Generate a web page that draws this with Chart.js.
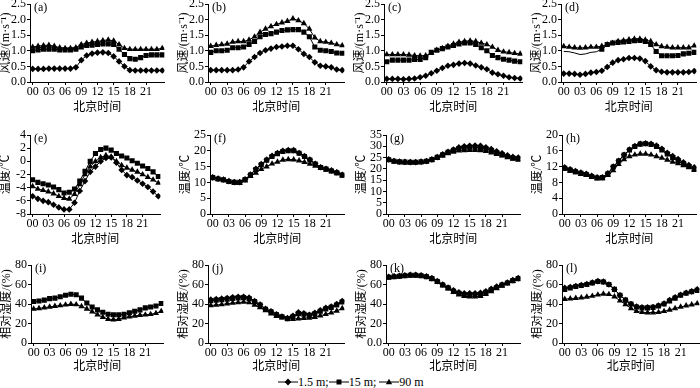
<!DOCTYPE html>
<html><head><meta charset="utf-8">
<script src="https://cdn.jsdelivr.net/npm/chart.js@4.4.0/dist/chart.umd.min.js"></script>
<style>
body{margin:0;width:700px;height:388px;background:#fff;position:relative;overflow:hidden}
canvas{position:absolute}
#legend{position:absolute;top:374px;left:278px;white-space:nowrap;font:12px 'Liberation Serif',serif;color:#000;line-height:16px}
#legend svg{vertical-align:-1px}
</style></head><body>
<div id="legend"><svg width="20" height="10"><line x1="0" y1="5" x2="20" y2="5" stroke="#000" stroke-width="1"/><polygon points="10,1.6 13.4,5 10,8.4 6.6,5" fill="#000"/></svg>1.5 m;<svg width="20" height="10"><line x1="0" y1="5" x2="20" y2="5" stroke="#000" stroke-width="1"/><rect x="7.5" y="2.5" width="5" height="5" fill="#000"/></svg>15 m; <svg width="20" height="10"><line x1="0" y1="5" x2="20" y2="5" stroke="#000" stroke-width="1"/><polygon points="10,1.8 13.2,7.3 6.8,7.3" fill="#000"/></svg>90 m</div>
<script>
// ---------- data ----------
const hours = [0,1,2,3,4,5,6,7,8,9,10,11,12,13,14,15,16,17,18,19,20,21,22,23,24];
const xTickValues = [0,3,6,9,12,15,18,21];
const xTickLabels = ['00','03','06','09','12','15','18','21'];

// wind speed (m/s)
const a_1_5 = [0.42,0.42,0.42,0.43,0.43,0.43,0.43,0.43,0.47,0.7,0.85,0.91,0.94,0.95,0.93,0.82,0.66,0.5,0.38,0.37,0.37,0.37,0.37,0.37,0.37];
const a_15  = [1.0,1.03,1.05,1.05,1.05,1.03,1.03,1.03,1.05,1.12,1.17,1.18,1.2,1.22,1.22,1.2,1.05,0.88,0.75,0.73,0.78,0.85,0.87,0.87,0.87];
const a_90  = [1.12,1.15,1.17,1.18,1.15,1.1,1.08,1.08,1.1,1.2,1.25,1.28,1.3,1.33,1.35,1.32,1.2,1.08,1.05,1.05,1.05,1.05,1.05,1.05,1.08];
const b_1_5 = [0.38,0.38,0.38,0.38,0.38,0.4,0.47,0.66,0.8,0.93,1.02,1.07,1.12,1.14,1.16,1.16,1.05,0.9,0.8,0.63,0.52,0.5,0.47,0.4,0.38];
const b_15  = [0.95,1.0,1.0,1.02,1.1,1.1,1.12,1.2,1.3,1.45,1.52,1.55,1.6,1.65,1.67,1.68,1.68,1.6,1.45,1.12,1.02,1.0,0.98,0.93,0.92];
const b_90  = [1.15,1.18,1.2,1.22,1.28,1.3,1.3,1.35,1.45,1.6,1.7,1.78,1.85,1.9,1.95,2.03,1.97,1.88,1.7,1.42,1.3,1.28,1.25,1.2,1.17];
const c_1_5 = [0.1,0.1,0.1,0.09,0.1,0.11,0.15,0.2,0.28,0.36,0.45,0.52,0.55,0.59,0.61,0.59,0.53,0.47,0.41,0.3,0.25,0.2,0.15,0.13,0.11];
const c_15  = [0.65,0.7,0.7,0.7,0.7,0.72,0.72,0.78,0.95,1.02,1.07,1.12,1.17,1.22,1.25,1.25,1.2,1.1,1.0,0.85,0.78,0.73,0.7,0.67,0.65];
const c_90  = [0.88,0.88,0.88,0.88,0.87,0.85,0.84,0.85,0.92,1.02,1.08,1.15,1.22,1.28,1.3,1.32,1.3,1.25,1.2,1.12,1.02,0.97,0.95,0.92,0.9];
const d_1_5 = [0.27,0.27,0.26,0.23,0.26,0.3,0.32,0.36,0.48,0.62,0.7,0.73,0.77,0.77,0.75,0.67,0.5,0.38,0.33,0.31,0.31,0.31,0.31,0.32,0.35];
const d_15  = [0.98,0.97,0.93,0.88,0.9,0.95,0.97,1.05,1.2,1.25,1.27,1.28,1.3,1.32,1.33,1.3,1.2,0.98,0.84,0.84,0.84,0.85,0.9,0.92,0.95];
const d_15_firstMarker = 7;
const d_90  = [1.14,1.12,1.1,1.09,1.1,1.12,1.12,1.15,1.2,1.25,1.3,1.33,1.36,1.38,1.38,1.35,1.3,1.2,1.14,1.12,1.1,1.1,1.1,1.1,1.16];

// temperature (°C)
const e_1_5 = [-5.3,-5.7,-6.0,-6.2,-6.6,-7.0,-7.3,-7.3,-6.3,-4.5,-3.0,-1.6,-0.8,0.0,0.5,0.6,-0.2,-1.3,-2.1,-2.4,-2.9,-3.4,-3.9,-4.6,-5.3];
const e_15  = [-2.8,-3.2,-3.4,-3.6,-3.9,-4.3,-4.8,-4.7,-4.2,-3.0,-1.5,0.0,1.2,1.8,2.0,1.7,1.2,0.8,0.5,0.1,-0.3,-0.7,-1.1,-1.6,-2.3];
const e_90  = [-3.8,-4.2,-4.4,-4.6,-4.9,-5.3,-5.6,-5.7,-5.0,-3.5,-2.0,-0.8,0.0,0.6,0.9,0.7,0.0,-0.6,-1.0,-1.3,-1.6,-2.0,-2.4,-2.8,-3.3];
const f_1_5 = [11.6,11.2,10.9,10.4,10.1,10.1,11.0,12.5,14.3,15.8,17.2,18.4,19.3,20.0,20.2,20.2,19.3,18.3,17.2,15.9,14.8,14.3,13.8,13.2,12.4];
const f_15  = [11.5,11.1,10.8,10.3,10.0,10.0,10.9,12.3,14.1,15.6,17.0,18.2,19.1,19.8,20.0,20.0,19.2,18.2,17.1,15.8,14.7,14.2,13.6,13.0,12.3];
const f_90  = [11.5,11.0,10.7,10.2,9.9,9.8,10.5,12.0,13.0,14.2,15.0,15.9,16.5,17.1,17.3,17.2,16.9,16.4,15.8,15.2,14.6,14.0,13.5,13.0,12.1];
const g_1_5 = [24.2,23.5,23.2,23.1,23.0,23.0,23.2,23.5,24.2,25.2,26.4,27.6,28.6,29.5,30.0,30.2,30.3,30.2,29.6,28.8,27.8,26.9,26.0,25.3,25.0];
const g_15  = [24.0,23.4,23.1,23.0,22.9,22.9,23.1,23.4,24.1,25.1,26.2,27.3,28.2,29.0,29.4,29.6,29.6,29.4,28.8,28.0,27.1,26.3,25.5,24.8,24.5];
const g_90  = [23.8,23.2,22.9,22.8,22.7,22.7,22.9,23.2,23.9,24.8,25.8,26.8,27.5,28.0,28.2,28.3,28.3,28.2,27.8,27.2,26.5,25.8,25.0,24.4,24.0];
const h_1_5 = [11.8,11.3,10.9,10.5,10.2,9.7,9.3,9.3,10.3,12.0,13.5,15.0,16.3,17.2,17.8,17.9,17.8,17.3,16.5,15.5,14.7,13.9,13.1,12.4,11.8];
const h_15  = [11.6,11.1,10.7,10.3,10.0,9.5,9.1,9.2,10.2,11.9,13.4,14.9,16.2,17.1,17.7,17.8,17.6,17.1,16.2,15.2,14.3,13.5,12.7,12.0,11.3];
const h_90  = [11.4,10.9,10.5,10.1,9.8,9.4,9.0,9.0,9.8,11.0,12.6,13.8,14.6,15.0,15.2,15.2,15.0,14.6,14.2,13.7,13.2,12.8,12.3,11.9,11.2];

// relative humidity (%)
const i_1_5 = [];
const i_15  = [42.5,43,44,45.5,46,47.5,49,50,49.5,46,41,37,34,31.5,29.5,29,29,29.5,31,32.5,34,36,37,38,40.5];
const i_90  = [35,35.5,36.3,37,37.8,38.4,39.2,39.8,39.5,37.5,35,32,29,26.5,24.5,24,24.5,26,27,27.8,28.5,29,29.5,30.5,32.5];
const j_1_5 = [44.5,45,45.5,46.2,47,47.5,47.5,46.5,43,39.5,35,32.5,29.5,27.2,25.5,28,31.5,30.5,29,31,33.5,36,37.5,40,43];
const j_15  = [43.5,44,44.5,45,45.8,46.3,46.5,45.5,42.5,39,34.5,32,29,27,25,27,30,29.5,28.5,30,32.5,35,36.5,39,42];
const j_90  = [38.5,39,39.5,40.3,41,41.5,42,41.5,39,36.5,33.5,30,27.5,26,25,24.5,25,25.5,25.8,26.5,28,29.5,31,33,35.5];
const k_1_5 = [68,68.5,69,69.5,70,70,69.5,68.5,66.5,63.5,60,57,54,52,51,51,51,51.5,53,55.5,58,60,62,64.5,66.5];
const k_15  = [67.5,68,68.5,69,69.5,69.5,69,68,66,63,59.5,56.5,53,51,49.5,49.5,49.5,50,52,54.5,57,59.5,61.5,64,66];
const k_90  = [67,67.5,68,68.5,69,69,68.5,67.5,65.5,62.5,59,56,52,49.5,48,47.5,47.5,48,50,53,56,58.5,61,63.5,65.5];
const l_1_5 = [56.5,57.5,58.5,59.5,60.5,62,63.5,63,60,55,49,44,40,37.5,36.5,36.5,37,38.5,40.5,44,47,49.5,51.5,53,55];
const l_15  = [55,56.5,58,59,60,61.5,63,62.5,60,55,49,44,40,37,36,36,36.5,38,40,43,46,49,51,52.5,54];
const l_90  = [45,45.5,46,46.5,47.3,48.2,49.5,50.3,50,47.5,43.5,39.5,35.5,32.5,31.5,31.2,31.2,31.5,32.5,34,35.5,37,38.3,39.3,40.5];

const windTitle = '风速/(m·s⁻¹)';
const tempTitle = '温度/℃';
const rhTitle = '相对湿度/(%)';
const xTitle = '北京时间';

// ---------- layout / styles ----------
const serif = "'Liberation Serif','Times New Roman',serif";
const titleFamily = "'Liberation Serif','Noto Sans CJK SC',serif";
const panels = [
  {lab:'(a)', s:[a_1_5,a_15,a_90], y:[0,2.5,0.5], yt:windTitle, fmt:v=>v.toFixed(1), L:30, R:167, T:4, B:82, Hx:33},
  {lab:'(b)', s:[b_1_5,b_15,b_90], y:[0,2.5,0.5], yt:windTitle, fmt:v=>v.toFixed(1), L:208, R:347, T:4, B:82, Hx:33},
  {lab:'(c)', s:[c_1_5,c_15,c_90], y:[0,2.5,0.5], yt:windTitle, fmt:v=>v.toFixed(1), L:384, R:525, T:4, B:82, Hx:33},
  {lab:'(d)', s:[d_1_5,d_15,d_90], y:[0,2.5,0.5], yt:windTitle, fmt:v=>v.toFixed(1), L:561, R:699, T:4, B:82, Hx:33, hide15:d_15_firstMarker},
  {lab:'(e)', s:[e_1_5,e_15,e_90], y:[-8,4,2], yt:tempTitle, fmt:v=>String(v), L:30, R:163, T:135, B:214, Hx:33},
  {lab:'(f)', s:[f_1_5,f_15,f_90], y:[0,25,5], yt:tempTitle, fmt:v=>String(v), L:210, R:347, T:135, B:214, Hx:33},
  {lab:'(g)', s:[g_1_5,g_15,g_90], y:[0,35,5], yt:tempTitle, fmt:v=>String(v), L:386, R:523, T:135, B:214, Hx:33},
  {lab:'(h)', s:[h_1_5,h_15,h_90], y:[0,20,4], yt:tempTitle, fmt:v=>String(v), L:562, R:699, T:135, B:214, Hx:33},
  {lab:'(i)', s:[i_1_5,i_15,i_90], y:[0,80,20], yt:rhTitle, fmt:v=>String(v), L:31, R:166, T:265, B:343, Hx:31},
  {lab:'(j)', s:[j_1_5,j_15,j_90], y:[0,80,20], yt:rhTitle, fmt:v=>String(v), L:208, R:347, T:265, B:343, Hx:31},
  {lab:'(k)', s:[k_1_5,k_15,k_90], y:[0,80,20], yt:rhTitle, fmt:v=>v===0?'0.0':String(v), L:386, R:523, T:265, B:343, Hx:31},
  {lab:'(l)', s:[l_1_5,l_15,l_90], y:[0,80,20], yt:rhTitle, fmt:v=>String(v), L:562, R:702, T:265, B:343, Hx:31},
];
const seriesNames = ['1.5 m','15 m','90 m'];
const styles = [
  {pointStyle:'rectRot', pointRadius:3.3},
  {pointStyle:'rect', pointRadius:3.6},
  {pointStyle:'triangle', pointRadius:3.6},
];
const YW = 31, PADTOP = 10, PADR = 1;

const panelLabel = {
  id:'panelLabel',
  afterDraw(chart, args, opts){
    const {ctx, chartArea} = chart;
    ctx.save();
    ctx.font = '12px ' + serif;
    ctx.fillStyle = '#000';
    ctx.textBaseline = 'middle';
    ctx.textAlign = 'left';
    ctx.fillText(opts.text, chartArea.left + 4, chartArea.top + 4);
    ctx.restore();
  }
};

panels.forEach((p) => {
  const cv = document.createElement('canvas');
  const w = YW + (p.R - p.L) + PADR;
  const h = PADTOP + (p.B - p.T) + p.Hx;
  cv.width = w; cv.height = h;
  cv.style.left = (p.L - YW) + 'px';
  cv.style.top = (p.T - PADTOP) + 'px';
  cv.style.width = w + 'px'; cv.style.height = h + 'px';
  document.body.appendChild(cv);

  const datasets = [];
  p.s.forEach((arr, si) => {
    if (!arr.length) return;
    const st = styles[si];
    const hideUntil = (si === 1 && p.hide15) ? p.hide15 : 0;
    datasets.push({
      label: seriesNames[si],
      data: arr.map((v, i) => ({x: hours[i], y: v})),
      borderColor:'#000', backgroundColor:'#000', borderWidth:1,
      pointStyle: st.pointStyle,
      pointRadius: hideUntil ? arr.map((v,i)=> i < hideUntil ? 0 : st.pointRadius) : st.pointRadius,
      pointBorderWidth:0, pointHoverRadius:0,
      tension:0
    });
  });

  const [ymin, ymax, ystep] = p.y;
  const chart = new Chart(cv, {
    type:'line',
    data:{datasets},
    plugins:[panelLabel],
    options:{
      responsive:false, animation:false, devicePixelRatio:1,
      layout:{padding:{top:PADTOP, right:PADR, left:0, bottom:0}},
      plugins:{legend:{display:false}, tooltip:{enabled:false}, panelLabel:{text:p.lab}},
      scales:{
        x:{
          type:'linear', min:-0.5, max:24.4,
          afterBuildTicks(s){ s.ticks = xTickValues.map(v=>({value:v})); },
          afterFit(s){ s.height = p.Hx; },
          ticks:{autoSkip:false, maxRotation:0, padding:0, color:'#000', font:{family:serif, size:12},
                 callback:(v,i)=>xTickLabels[i]},
          grid:{drawOnChartArea:false, tickLength:3, color:'#000'},
          border:{color:'#000', width:1},
          title:{display:true, text:xTitle, color:'#000', font:{family:titleFamily, size:12}, padding:0}
        },
        y:{
          min:ymin, max:ymax,
          afterBuildTicks(s){ const t=[]; for(let v=ymin; v<=ymax+1e-9; v+=ystep) t.push({value:+v.toFixed(4)}); s.ticks=t; },
          afterFit(s){ s.width = YW; },
          ticks:{autoSkip:false, padding:1, color:'#000', font:{family:serif, size:12}, callback:v=>p.fmt(v)},
          grid:{drawOnChartArea:false, tickLength:3, color:'#000'},
          border:{color:'#000', width:1},
          title:{display:true, text:p.yt, color:'#000', font:{family:titleFamily, size:12}, padding:0}
        }
      }
    }
  });
  // widen canvas so the plot's right edge lands where it should
  const target = YW + (p.R - p.L);
  const delta = Math.round(target - chart.chartArea.right);
  if (delta !== 0) {
    const nw = w + delta;
    cv.style.width = nw + 'px';
    chart.resize(nw, h);
  }
});
</script>
</body></html>
